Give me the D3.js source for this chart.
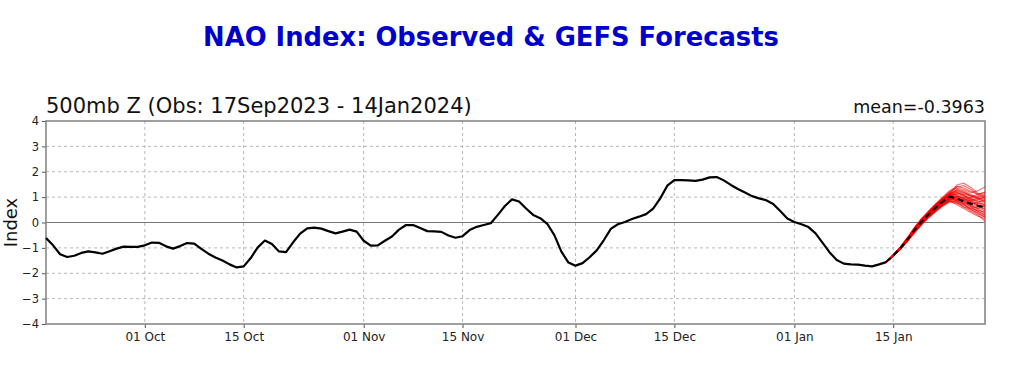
<!DOCTYPE html>
<html>
<head>
<meta charset="utf-8">
<script src="https://cdn.jsdelivr.net/npm/d3@7"></script>
<style>
  body { margin: 0; background: #fff; }
  svg { display: block; font-family: "DejaVu Sans", sans-serif; }
</style>
</head>
<body>
<div id="chart"></div>
<script>
// observed NAO index, one value per day starting 17 Sep 2023
const obsStart = "2023-09-17";
const obsValues = [
  -0.61, -0.90, -1.25, -1.36, -1.31, -1.20, -1.14, -1.18, -1.23, -1.13,
  -1.03, -0.95, -0.96, -0.96, -0.90, -0.79, -0.80, -0.94, -1.03, -0.93,
  -0.81, -0.83, -1.04, -1.23, -1.38, -1.50, -1.65, -1.77, -1.73, -1.40,
  -0.98, -0.71, -0.85, -1.14, -1.17, -0.78, -0.44, -0.23, -0.20, -0.24,
  -0.34, -0.43, -0.36, -0.28, -0.36, -0.72, -0.91, -0.90, -0.72, -0.55,
  -0.28, -0.10, -0.10, -0.22, -0.34, -0.35, -0.37, -0.51, -0.60, -0.54,
  -0.30, -0.17, -0.10, -0.03, 0.30, 0.65, 0.91, 0.83, 0.55, 0.30,
  0.17, -0.05, -0.50, -1.15, -1.58, -1.70, -1.60, -1.37, -1.10, -0.70,
  -0.25, -0.07, 0.02, 0.14, 0.23, 0.33, 0.55, 0.95, 1.45, 1.67,
  1.67, 1.66, 1.64, 1.69, 1.78, 1.79, 1.66, 1.48, 1.32, 1.18,
  1.04, 0.95, 0.88, 0.73, 0.45, 0.16, 0.02, -0.07, -0.18, -0.43,
  -0.80, -1.18, -1.48, -1.62, -1.65, -1.66, -1.70, -1.73, -1.65, -1.56
];

// GEFS forecasts, daily from 15 Jan 2024 (start from last observed value)
const fcstStart = "2024-01-14";
const fcstMean = [-1.30, -1.02, -0.68, -0.30, 0.03, 0.32, 0.58, 0.82, 1.02, 0.95, 0.83, 0.74, 0.66, 0.60];
const fcstMembers = [
  [-1.28, -0.98, -0.62, -0.22, 0.12, 0.42, 0.70, 0.98, 1.22, 1.35, 1.30, 1.18, 1.25, 1.40],
  [-1.31, -1.05, -0.72, -0.36, -0.04, 0.24, 0.48, 0.72, 0.90, 0.85, 0.70, 0.52, 0.35, 0.20],
  [-1.29, -1.00, -0.65, -0.26, 0.08, 0.38, 0.64, 0.90, 1.12, 1.48, 1.55, 1.38, 1.15, 1.02],
  [-1.32, -1.06, -0.74, -0.40, -0.08, 0.20, 0.44, 0.66, 0.84, 0.80, 0.62, 0.45, 0.30, 0.05],
  [-1.30, -1.02, -0.67, -0.28, 0.05, 0.35, 0.60, 0.85, 1.08, 1.05, 0.98, 0.92, 0.85, 0.78],
  [-1.30, -1.03, -0.70, -0.33, 0.00, 0.28, 0.52, 0.76, 0.96, 1.00, 0.88, 0.70, 0.62, 0.55],
  [-1.27, -0.97, -0.60, -0.20, 0.15, 0.45, 0.72, 0.95, 1.18, 1.40, 1.45, 1.30, 1.08, 0.95],
  [-1.31, -1.04, -0.71, -0.35, -0.02, 0.26, 0.50, 0.70, 0.88, 0.78, 0.60, 0.55, 0.48, 0.40],
  [-1.29, -1.01, -0.66, -0.29, 0.06, 0.36, 0.62, 0.88, 1.10, 1.20, 1.05, 0.90, 0.95, 1.05],
  [-1.31, -1.04, -0.69, -0.31, 0.02, 0.30, 0.55, 0.78, 0.98, 0.92, 0.86, 0.80, 0.68, 0.60],
  [-1.30, -1.02, -0.68, -0.30, 0.04, 0.33, 0.58, 0.83, 1.04, 1.15, 1.10, 0.95, 0.80, 0.70],
  [-1.32, -1.05, -0.73, -0.38, -0.06, 0.22, 0.46, 0.70, 0.86, 0.70, 0.55, 0.40, 0.25, 0.15],
  [-1.28, -0.99, -0.63, -0.24, 0.10, 0.40, 0.68, 0.94, 1.15, 1.25, 1.18, 1.02, 1.10, 1.20],
  [-1.30, -1.03, -0.69, -0.32, 0.01, 0.30, 0.56, 0.80, 0.95, 0.88, 0.78, 0.72, 0.80, 0.88],
  [-1.29, -1.00, -0.64, -0.25, 0.09, 0.39, 0.66, 0.90, 1.05, 0.98, 0.85, 0.68, 0.52, 0.38],
  [-1.31, -1.04, -0.70, -0.34, -0.01, 0.27, 0.52, 0.75, 0.92, 1.02, 0.96, 0.80, 0.70, 0.62],
  [-1.30, -1.01, -0.66, -0.27, 0.07, 0.37, 0.63, 0.86, 1.06, 1.30, 1.25, 1.10, 0.98, 0.90],
  [-1.32, -1.06, -0.75, -0.42, -0.10, 0.18, 0.42, 0.64, 0.80, 0.75, 0.68, 0.58, 0.45, 0.30],
  [-1.29, -0.99, -0.63, -0.23, 0.11, 0.41, 0.69, 0.92, 1.12, 1.08, 0.92, 0.85, 0.90, 1.00],
  [-1.30, -1.02, -0.67, -0.29, 0.05, 0.34, 0.59, 0.82, 1.00, 0.96, 0.90, 0.78, 0.65, 0.50],
  [-1.28, -0.97, -0.61, -0.21, 0.14, 0.44, 0.73, 1.00, 1.25, 1.42, 1.36, 1.22, 1.12, 1.18],
  [-1.31, -1.05, -0.71, -0.37, -0.05, 0.23, 0.47, 0.71, 0.92, 0.90, 0.82, 0.64, 0.42, 0.28],
  [-1.29, -1.00, -0.65, -0.27, 0.07, 0.37, 0.61, 0.86, 1.06, 1.12, 1.02, 0.98, 1.02, 1.12],
  [-1.30, -1.03, -0.69, -0.31, 0.02, 0.31, 0.55, 0.79, 0.99, 0.94, 0.74, 0.62, 0.58, 0.45],
  [-1.28, -0.98, -0.62, -0.23, 0.11, 0.41, 0.67, 0.93, 1.16, 1.28, 1.20, 1.05, 0.92, 0.82],
  [-1.31, -1.04, -0.70, -0.33, 0.00, 0.29, 0.53, 0.77, 0.94, 0.86, 0.76, 0.66, 0.55, 0.68],
  [-1.29, -1.01, -0.67, -0.28, 0.06, 0.36, 0.61, 0.87, 1.09, 1.18, 1.08, 0.86, 0.75, 0.72],
  [-1.32, -1.06, -0.73, -0.39, -0.07, 0.21, 0.45, 0.68, 0.85, 0.82, 0.72, 0.50, 0.38, 0.22],
  [-1.29, -0.99, -0.64, -0.25, 0.09, 0.39, 0.65, 0.91, 1.14, 1.22, 1.14, 1.06, 0.96, 0.84],
  [-1.30, -1.02, -0.68, -0.30, 0.03, 0.32, 0.57, 0.81, 1.01, 1.04, 0.94, 0.84, 0.74, 0.66]
];

const xDomain = ["2023-09-17", "2024-01-28"];
const xTickDates = ["2023-10-01", "2023-10-15", "2023-11-01", "2023-11-15",
                    "2023-12-01", "2023-12-15", "2024-01-01", "2024-01-15"];
const xTickLabels = ["01 Oct", "15 Oct", "01 Nov", "15 Nov", "01 Dec", "15 Dec", "01 Jan", "15 Jan"];
const yTicks = [-4, -3, -2, -1, 0, 1, 2, 3, 4];

const titleText = "NAO Index: Observed & GEFS Forecasts";
const subTitle = "500mb Z (Obs: 17Sep2023 - 14Jan2024)";
const meanText = "mean=-0.3963";

const width = 1024, height = 389;
const margin = { top: 121, right: 39, bottom: 65, left: 46 };
const innerW = width - margin.left - margin.right;
const innerH = height - margin.top - margin.bottom;

const parse = d3.utcParse("%Y-%m-%d");

const svg = d3.select("#chart").append("svg")
  .attr("width", width)
  .attr("height", height);

svg.append("text")
  .attr("x", 491)
  .attr("y", 46)
  .attr("text-anchor", "middle")
  .attr("fill", "#0000cc")
  .style("font-weight", "bold")
  .style("font-size", "25.8px")
  .text(titleText);

const chart = svg.append("g")
  .attr("transform", `translate(${margin.left}, ${margin.top})`);

const x = d3.scaleUtc()
  .domain(xDomain.map(parse))
  .range([0, innerW]);

const y = d3.scaleLinear()
  .domain([-4, 4])
  .range([innerH, 0]);

// grid
chart.append("g")
  .selectAll("line")
  .data(yTicks.filter((d) => d !== 0 && d !== 4 && d !== -4))
  .join("line")
  .attr("x1", 0)
  .attr("x2", innerW)
  .attr("y1", (d) => y(d))
  .attr("y2", (d) => y(d))
  .attr("stroke", "#b8b8b8")
  .attr("stroke-width", 1)
  .attr("stroke-dasharray", "3,3");

chart.append("g")
  .selectAll("line")
  .data(xTickDates)
  .join("line")
  .attr("x1", (d) => x(parse(d)))
  .attr("x2", (d) => x(parse(d)))
  .attr("y1", 0)
  .attr("y2", innerH)
  .attr("stroke", "#b8b8b8")
  .attr("stroke-width", 1)
  .attr("stroke-dasharray", "3,3");

// zero line
chart.append("line")
  .attr("x1", 0)
  .attr("x2", innerW)
  .attr("y1", y(0))
  .attr("y2", y(0))
  .attr("stroke", "#777")
  .attr("stroke-width", 1);

// axes
const xAxis = chart.append("g")
  .attr("transform", `translate(0, ${innerH})`)
  .call(d3.axisBottom(x)
    .tickValues(xTickDates.map(parse))
    .tickFormat((d, i) => xTickLabels[i])
    .tickSize(4)
    .tickPadding(4));

const yAxis = chart.append("g")
  .call(d3.axisLeft(y)
    .tickValues(yTicks)
    .tickFormat((d) => (d < 0 ? "\u2212" + Math.abs(d) : d))
    .tickSize(4)
    .tickPadding(3));

[xAxis, yAxis].forEach((a) => {
  a.select(".domain").remove();
  a.selectAll(".tick line").attr("stroke", "#555");
  a.selectAll(".tick text")
    .attr("fill", "#222")
    .style("font-size", "12px")
    .style("font-family", "DejaVu Sans, sans-serif");
});
yAxis.selectAll(".tick text").style("font-size", "11.5px");

// frame
chart.append("rect")
  .attr("x", 0)
  .attr("y", 0)
  .attr("width", innerW)
  .attr("height", innerH)
  .attr("fill", "none")
  .attr("stroke", "#808080")
  .attr("stroke-width", 1.5);

const line = d3.line()
  .x((d) => x(d.date))
  .y((d) => y(d.value));

const obsData = obsValues.map((v, i) => ({ date: d3.utcDay.offset(parse(obsStart), i), value: v }));
const lastObs = obsValues[obsValues.length - 1];
const toFcst = (vals) => [lastObs].concat(vals)
  .map((v, i) => ({ date: d3.utcDay.offset(parse(fcstStart), i), value: v }));

// ensemble members
chart.append("g")
  .selectAll("path")
  .data(fcstMembers.map(toFcst))
  .join("path")
  .attr("d", line)
  .attr("fill", "none")
  .attr("stroke", "rgba(238,0,0,0.55)")
  .attr("stroke-width", 1.2);

// observed
chart.append("path")
  .datum(obsData)
  .attr("d", line)
  .attr("fill", "none")
  .attr("stroke", "#000")
  .attr("stroke-width", 2.2)
  .attr("stroke-linejoin", "round");

// ensemble mean
chart.append("path")
  .datum(toFcst(fcstMean))
  .attr("d", line)
  .attr("fill", "none")
  .attr("stroke", "#000")
  .attr("stroke-width", 2)
  .attr("stroke-dasharray", "6,4");

// axis label & subtitles
chart.append("text")
  .attr("transform", `translate(${-29}, ${innerH / 2}) rotate(-90)`)
  .attr("text-anchor", "middle")
  .style("font-size", "18px")
  .attr("fill", "#111")
  .text("Index");

chart.append("text")
  .attr("x", 0)
  .attr("y", -8)
  .style("font-size", "21px")
  .attr("fill", "#111")
  .text(subTitle);

chart.append("text")
  .attr("x", innerW)
  .attr("y", -8)
  .attr("text-anchor", "end")
  .style("font-size", "17.5px")
  .attr("fill", "#111")
  .text(meanText);
</script>
</body>
</html>
